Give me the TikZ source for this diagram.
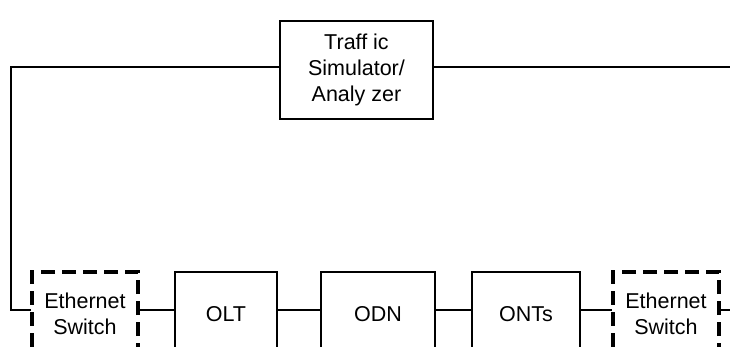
\documentclass[tikz,border=0pt]{standalone}
\usepackage{fontspec}
\setmainfont{Liberation Sans}
\begin{document}
\begin{tikzpicture}[x=1pt,y=-1pt,
  font=\fontsize{21.5}{26}\selectfont,
  wire/.style={line width=1.8pt, line cap=rect},
  unit/.style={draw, line width=1.8pt, align=center, inner sep=0pt, minimum height=84pt},
  switchbox/.style={unit, line width=4pt, dash pattern=on 14pt off 7pt}]
\useasboundingbox (0,0) rectangle (730,347);
\clip (0,0) rectangle (730,347);

% traffic generator on top
\node[unit, minimum width=153pt, minimum height=98pt] (ts) at (356.5,70)
  {Traff ic\\Simulator/\\Analy zer};

% chain along the bottom
\node[switchbox, minimum width=106pt] (sw1) at (85,314) {Ethernet\\Switch};
\node[unit, minimum width=102pt] (olt) at (226,314) {OLT};
\node[unit, minimum width=114pt] (odn) at (378,314) {ODN};
\node[unit, minimum width=108pt] (onts) at (526,314) {ONTs};
\node[switchbox, minimum width=106pt] (sw2) at (666,314) {Ethernet\\Switch};

% free ends of the outer loop
\coordinate (lcorner) at (11,67);
\coordinate (redge) at (731,67);
\coordinate (rstub) at (731,310);

\draw[wire] ([yshift=3pt]ts.west) -- (lcorner) |- ([yshift=4pt]sw1.west);
\draw[wire] ([yshift=3pt]ts.east) -- (redge);
\draw[wire] ([yshift=4pt]sw1.east) -- ([yshift=4pt]olt.west);
\draw[wire] ([yshift=4pt]olt.east) -- ([yshift=4pt]odn.west);
\draw[wire] ([yshift=4pt]odn.east) -- ([yshift=4pt]onts.west);
\draw[wire] ([yshift=4pt]onts.east) -- ([yshift=4pt]sw2.west);
\draw[wire] ([yshift=4pt]sw2.east) -- (rstub);
\end{tikzpicture}
\end{document}
